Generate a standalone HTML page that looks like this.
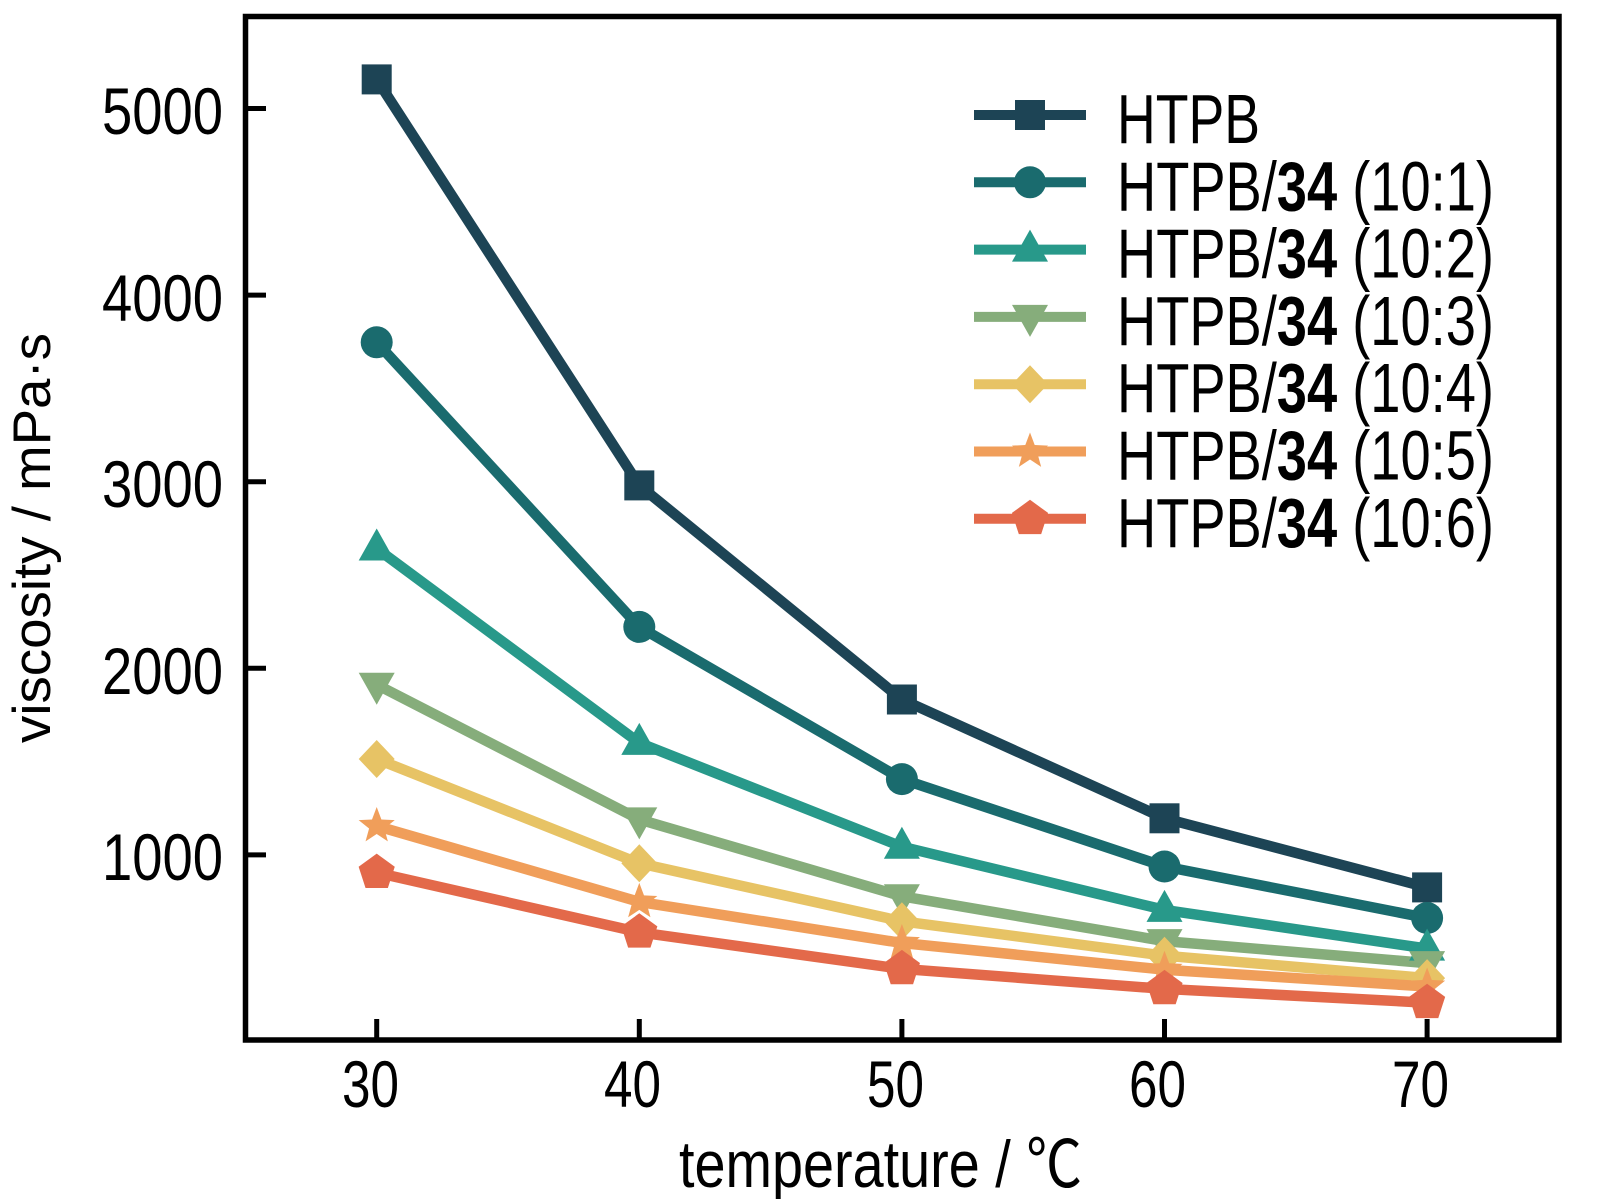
<!DOCTYPE html>
<html>
<head>
<meta charset="utf-8">
<style>
  html,body{margin:0;padding:0;background:#fff;}
  svg{display:block;}
  text{font-family:"Liberation Sans","Noto Sans CJK SC",sans-serif;fill:#000;}
</style>
</head>
<body>
<svg width="1618" height="1199" viewBox="0 0 1618 1199" xmlns="http://www.w3.org/2000/svg">
  <defs>
    <rect id="sq" x="-15" y="-15" width="30" height="30"/>
    <circle id="ci" cx="0" cy="0" r="16"/>
    <polygon id="tu" points="0,-20 18,12 -18,12"/>
    <polygon id="td" points="0,20 18,-12 -18,-12"/>
    <polygon id="di" points="0,-19 18,0 0,19 -18,0"/>
    <polygon id="st" points="0,-19 4.7,-6.47 18.07,-5.87 7.61,2.47 11.17,15.37 0,8 -11.17,15.37 -7.61,2.47 -18.07,-5.87 -4.7,-6.47"/>
    <polygon id="pe" points="0,-19 18.07,-5.87 11.17,15.37 -11.17,15.37 -18.07,-5.87"/>
  </defs>
  <rect x="0" y="0" width="1618" height="1199" fill="#fff"/>

  <!-- frame -->
  <rect x="245.5" y="16.5" width="1313.5" height="1023.5" fill="none" stroke="#000" stroke-width="5.5"/>
  <!-- y ticks -->
  <g stroke="#000" stroke-width="5">
    <line x1="245" y1="108.5" x2="266" y2="108.5"/>
    <line x1="245" y1="295.1" x2="266" y2="295.1"/>
    <line x1="245" y1="481.7" x2="266" y2="481.7"/>
    <line x1="245" y1="668.3" x2="266" y2="668.3"/>
    <line x1="245" y1="854.9" x2="266" y2="854.9"/>
    <!-- x ticks -->
    <line x1="376.7" y1="1040" x2="376.7" y2="1019"/>
    <line x1="639.3" y1="1040" x2="639.3" y2="1019"/>
    <line x1="901.9" y1="1040" x2="901.9" y2="1019"/>
    <line x1="1164.5" y1="1040" x2="1164.5" y2="1019"/>
    <line x1="1427.1" y1="1040" x2="1427.1" y2="1019"/>
  </g>

  <!-- y tick labels -->
  <g font-size="66" text-anchor="end">
    <text x="223" y="134" textLength="121" lengthAdjust="spacingAndGlyphs">5000</text>
    <text x="223" y="321" textLength="121" lengthAdjust="spacingAndGlyphs">4000</text>
    <text x="223" y="507" textLength="121" lengthAdjust="spacingAndGlyphs">3000</text>
    <text x="223" y="694" textLength="121" lengthAdjust="spacingAndGlyphs">2000</text>
    <text x="223" y="880" textLength="121" lengthAdjust="spacingAndGlyphs">1000</text>
  </g>
  <!-- x tick labels -->
  <g font-size="66">
    <text x="342" y="1107" textLength="57" lengthAdjust="spacingAndGlyphs">30</text>
    <text x="604" y="1107" textLength="57" lengthAdjust="spacingAndGlyphs">40</text>
    <text x="867" y="1107" textLength="57" lengthAdjust="spacingAndGlyphs">50</text>
    <text x="1129" y="1107" textLength="57" lengthAdjust="spacingAndGlyphs">60</text>
    <text x="1392" y="1107" textLength="57" lengthAdjust="spacingAndGlyphs">70</text>
  </g>

  <!-- axis titles -->
  <text x="679" y="1187" font-size="66" textLength="403" lengthAdjust="spacingAndGlyphs">temperature / ℃</text>
  <text transform="translate(50,743) rotate(-90)" x="0" y="0" font-size="53" textLength="410" lengthAdjust="spacingAndGlyphs">viscosity / mPa·s</text>

  <!-- series lines -->
  <g fill="none" stroke-width="10.5" stroke-linejoin="round" stroke-linecap="round">
    <polyline stroke="#1d4455" points="376.7,79.4 639.3,485.4 901.9,699.5 1164.5,818.3 1427.1,887.4"/>
    <polyline stroke="#1a6b6e" points="376.7,342.3 639.3,626.9 901.9,779.1 1164.5,866.5 1427.1,918"/>
    <polyline stroke="#28998a" points="376.7,548.5 639.3,742.9 901.9,846.7 1164.5,909.9 1427.1,948.6"/>
    <polyline stroke="#86ad7b" points="376.7,684.7 639.3,819.4 901.9,896.3 1164.5,941.1 1427.1,963.1"/>
    <polyline stroke="#e7c365" points="376.7,759 639.3,863.3 901.9,921.3 1164.5,955.7 1427.1,978.1"/>
    <polyline stroke="#f09e5a" points="376.7,826 639.3,901.9 901.9,943 1164.5,969.7 1427.1,986.5"/>
    <polyline stroke="#e3694a" points="376.7,872.6 639.3,932.3 901.9,968.9 1164.5,988.9 1427.1,1002.7"/>
  </g>

  <!-- markers -->
  <g fill="#1d4455">
    <use href="#sq" x="376.7" y="79.4"/><use href="#sq" x="639.3" y="485.4"/><use href="#sq" x="901.9" y="699.5"/><use href="#sq" x="1164.5" y="818.3"/><use href="#sq" x="1427.1" y="887.4"/>
  </g>
  <g fill="#1a6b6e">
    <use href="#ci" x="376.7" y="342.3"/><use href="#ci" x="639.3" y="626.9"/><use href="#ci" x="901.9" y="779.1"/><use href="#ci" x="1164.5" y="866.5"/><use href="#ci" x="1427.1" y="918"/>
  </g>
  <g fill="#28998a">
    <use href="#tu" x="376.7" y="548.5"/><use href="#tu" x="639.3" y="742.9"/><use href="#tu" x="901.9" y="846.7"/><use href="#tu" x="1164.5" y="909.9"/><use href="#tu" x="1427.1" y="948.6"/>
  </g>
  <g fill="#86ad7b">
    <use href="#td" x="376.7" y="684.7"/><use href="#td" x="639.3" y="819.4"/><use href="#td" x="901.9" y="896.3"/><use href="#td" x="1164.5" y="941.1"/><use href="#td" x="1427.1" y="963.1"/>
  </g>
  <g fill="#e7c365">
    <use href="#di" x="376.7" y="759"/><use href="#di" x="639.3" y="863.3"/><use href="#di" x="901.9" y="921.3"/><use href="#di" x="1164.5" y="955.7"/><use href="#di" x="1427.1" y="978.1"/>
  </g>
  <g fill="#f09e5a">
    <use href="#st" x="376.7" y="826"/><use href="#st" x="639.3" y="901.9"/><use href="#st" x="901.9" y="943"/><use href="#st" x="1164.5" y="969.7"/><use href="#st" x="1427.1" y="986.5"/>
  </g>
  <g fill="#e3694a">
    <use href="#pe" x="376.7" y="872.6"/><use href="#pe" x="639.3" y="932.3"/><use href="#pe" x="901.9" y="968.9"/><use href="#pe" x="1164.5" y="988.9"/><use href="#pe" x="1427.1" y="1002.7"/>
  </g>

  <!-- legend -->
  <g stroke-width="10">
    <line x1="974" y1="115" x2="1086" y2="115" stroke="#1d4455"/>
    <line x1="974" y1="182.3" x2="1086" y2="182.3" stroke="#1a6b6e"/>
    <line x1="974" y1="249.6" x2="1086" y2="249.6" stroke="#28998a"/>
    <line x1="974" y1="316.9" x2="1086" y2="316.9" stroke="#86ad7b"/>
    <line x1="974" y1="384.2" x2="1086" y2="384.2" stroke="#e7c365"/>
    <line x1="974" y1="451.5" x2="1086" y2="451.5" stroke="#f09e5a"/>
    <line x1="974" y1="518.8" x2="1086" y2="518.8" stroke="#e3694a"/>
  </g>
  <use href="#sq" x="1030" y="115" fill="#1d4455"/>
  <use href="#ci" x="1030" y="182.3" fill="#1a6b6e"/>
  <use href="#tu" x="1030" y="249.6" fill="#28998a"/>
  <use href="#td" x="1030" y="316.9" fill="#86ad7b"/>
  <use href="#di" x="1030" y="384.2" fill="#e7c365"/>
  <use href="#st" x="1030" y="451.5" fill="#f09e5a"/>
  <use href="#pe" x="1030" y="518.8" fill="#e3694a"/>

  <g font-size="70">
    <text x="1117" y="143" textLength="143" lengthAdjust="spacingAndGlyphs">HTPB</text>
    <text x="1117" y="210.3" textLength="377" lengthAdjust="spacingAndGlyphs">HTPB/<tspan font-weight="bold">34</tspan> (10:1)</text>
    <text x="1117" y="277.6" textLength="377" lengthAdjust="spacingAndGlyphs">HTPB/<tspan font-weight="bold">34</tspan> (10:2)</text>
    <text x="1117" y="344.9" textLength="377" lengthAdjust="spacingAndGlyphs">HTPB/<tspan font-weight="bold">34</tspan> (10:3)</text>
    <text x="1117" y="412.2" textLength="377" lengthAdjust="spacingAndGlyphs">HTPB/<tspan font-weight="bold">34</tspan> (10:4)</text>
    <text x="1117" y="479.5" textLength="377" lengthAdjust="spacingAndGlyphs">HTPB/<tspan font-weight="bold">34</tspan> (10:5)</text>
    <text x="1117" y="546.8" textLength="377" lengthAdjust="spacingAndGlyphs">HTPB/<tspan font-weight="bold">34</tspan> (10:6)</text>
  </g>
</svg>
</body>
</html>
